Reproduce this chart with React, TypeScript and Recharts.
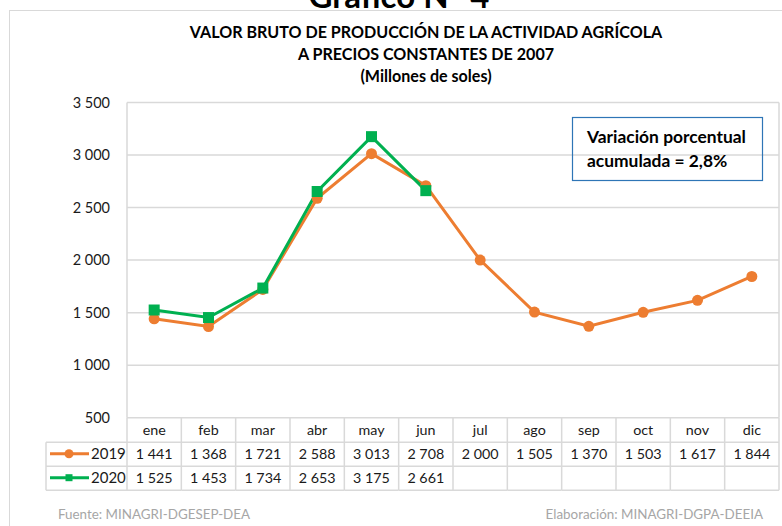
import React from "react";
import { LineChart, Line, XAxis, YAxis, CartesianGrid } from "recharts";

const months = ["ene", "feb", "mar", "abr", "may", "jun", "jul", "ago", "sep", "oct", "nov", "dic"];
const values2019 = [1441, 1368, 1721, 2588, 3013, 2708, 2000, 1505, 1370, 1503, 1617, 1844];
const values2020 = [1525, 1453, 1734, 2653, 3175, 2661, null, null, null, null, null, null];
const yTicks = [500, 1000, 1500, 2000, 2500, 3000, 3500];
const seriesNames = ["2019", "2020"];

const data = months.map((m, i) => ({ month: m, y2019: values2019[i], y2020: values2020[i] }));

const ORANGE = "#ED7D31";
const GREEN = "#00B050";
const GRID = "#D9D9D9";
const FONT = "Lato, 'Open Sans', sans-serif";

const fmt = (n: number | null) => (n == null ? "" : String(n).replace(/\B(?=(\d{3})+(?!\d))/g, " "));

function TableTick(props: any) {
  const { x, y, payload } = props;
  const i: number = payload.index ?? props.index;
  const w = (payload.offset ?? 27.17) * 2;
  const left = x - w / 2;
  const right = x + w / 2;
  const r1 = y + 24.5;
  const r2 = y + 48.5;
  const r3 = y + 72.5;
  const legLeft = left - 81;
  const text = { fontFamily: FONT, fontSize: 14.3, fill: "#1a1a1a", textAnchor: "middle" as const };
  return (
    <g>
      <line x1={left} x2={left} y1={y} y2={r3} stroke={GRID} strokeWidth={1.5} />
      {i === months.length - 1 && <line x1={right} x2={right} y1={y} y2={r3} stroke={GRID} strokeWidth={1.5} />}
      {[r1, r2, r3].map((ry) => (
        <line key={ry} x1={i === 0 ? legLeft : left} x2={right} y1={ry} y2={ry} stroke={GRID} strokeWidth={1.5} />
      ))}
      <text {...text} x={x} y={y + 17}>{payload.value}</text>
      <text {...text} x={x} y={r1 + 17}>{fmt(values2019[i])}</text>
      <text {...text} x={x} y={r2 + 17}>{fmt(values2020[i])}</text>
      {i === 0 && (
        <g>
          <line x1={legLeft} x2={legLeft} y1={r1} y2={r3} stroke={GRID} strokeWidth={1.5} />
          <line x1={legLeft + 4} x2={legLeft + 43} y1={r1 + 11.5} y2={r1 + 11.5} stroke={ORANGE} strokeWidth={3} />
          <circle cx={legLeft + 23} cy={r1 + 11.5} r={4.5} fill={ORANGE} />
          <line x1={legLeft + 4} x2={legLeft + 43} y1={r2 + 11.5} y2={r2 + 11.5} stroke={GREEN} strokeWidth={3} />
          <rect x={legLeft + 19.5} y={r2 + 8} width={7} height={7} fill={GREEN} />
          <text {...text} fontSize={15} textAnchor="start" x={legLeft + 45} y={r1 + 17}>{seriesNames[0]}</text>
          <text {...text} fontSize={15} textAnchor="start" x={legLeft + 45} y={r2 + 17}>{seriesNames[1]}</text>
        </g>
      )}
    </g>
  );
}

function SquareDot(props: any) {
  const { cx, cy } = props;
  if (cx == null || cy == null || props.value == null) return null;
  return <rect x={cx - 5.5} y={cy - 5.5} width={11} height={11} fill={GREEN} />;
}

export default function App() {
  return (
    <div style={{ position: "absolute", left: 0, top: 0, width: 782, height: 526, overflow: "hidden", background: "#fff" }}>
      <div style={{ position: "absolute", left: 9, top: 10, width: 820, height: 600, border: `1.5px solid ${GRID}` }} />
      <div style={{ position: "absolute", left: 0, top: 0 }}>
        <LineChart width={782} height={526} data={data} margin={{ top: 102.5, right: 0, left: 67, bottom: 0 }}>
          <CartesianGrid vertical={false} stroke={GRID} strokeWidth={1.5} />
          <XAxis
            dataKey="month"
            scale="band"
            height={108.3}
            axisLine={false}
            tickLine={false}
            tickSize={0}
            tickMargin={0}
            interval={0}
            tick={<TableTick />}
          />
          <YAxis
            domain={[500, 3500]}
            ticks={yTicks}
            width={60}
            axisLine={{ stroke: GRID, strokeWidth: 1.5 }}
            tickLine={false}
            tickSize={0}
            tickMargin={17}
            tickFormatter={(v: number) => fmt(v)}
            tick={{ fontFamily: FONT, fontSize: 14.5, fill: "#1a1a1a" }}
          />
          <YAxis
            yAxisId="r"
            orientation="right"
            domain={[500, 3500]}
            width={3}
            tick={false}
            tickLine={false}
            axisLine={{ stroke: GRID, strokeWidth: 1.5 }}
          />
          <Line
            dataKey="y2019"
            stroke={ORANGE}
            strokeWidth={3}
            dot={{ r: 5.5, fill: ORANGE, stroke: ORANGE, strokeWidth: 0 }}
            isAnimationActive={false}
          />
          <Line
            dataKey="y2020"
            stroke={GREEN}
            strokeWidth={3}
            dot={<SquareDot />}
            isAnimationActive={false}
          />
        </LineChart>
      </div>
      <svg width={782} height={526} style={{ position: "absolute", left: 0, top: 0, pointerEvents: "none" }}>
        <g fontFamily={FONT}>
          <text x={399} y={8} textAnchor="middle" fontSize={33} fontWeight={700} fill="#000">Gráfico N° 4</text>
          <text x={426} y={38} textAnchor="middle" fontSize={16.1} fontWeight={700} fill="#000">VALOR BRUTO DE PRODUCCIÓN DE LA ACTIVIDAD AGRÍCOLA</text>
          <text x={426} y={60} textAnchor="middle" fontSize={16.1} fontWeight={700} fill="#000">A PRECIOS CONSTANTES DE 2007</text>
          <text x={426} y={82} textAnchor="middle" fontSize={16.1} fontWeight={700} fill="#000">(Millones de soles)</text>
          <rect x={572.5} y={117.5} width={190} height={63} fill="none" stroke="#2E75B6" strokeWidth={1.2} />
          <text x={587} y={143} fontSize={17.4} fontWeight={700} fill="#000">Variación porcentual</text>
          <text x={587} y={167} fontSize={17.4} fontWeight={700} fill="#000">acumulada = 2,8%</text>
          <text x={58} y={519} fontSize={13.4} fill="#A6A6A6">Fuente: MINAGRI-DGESEP-DEA</text>
          <text x={763} y={519} textAnchor="end" fontSize={13.4} fill="#A6A6A6">Elaboración: MINAGRI-DGPA-DEEIA</text>
        </g>
      </svg>
    </div>
  );
}
